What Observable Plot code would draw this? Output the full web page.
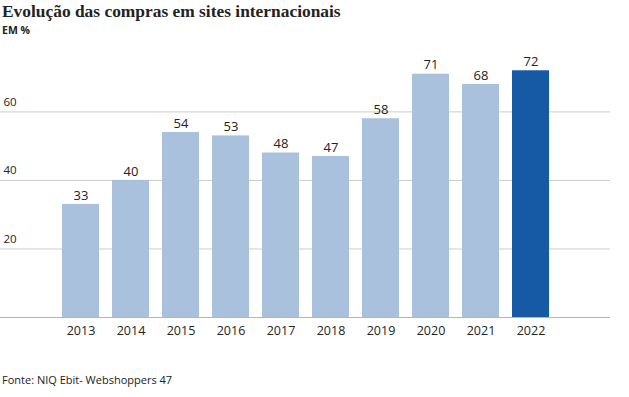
<!DOCTYPE html>
<html><head><meta charset="utf-8">
<script src="https://cdn.jsdelivr.net/npm/d3@7"></script>
<script src="https://cdn.jsdelivr.net/npm/@observablehq/plot@0.6"></script>
<style>
body{margin:0;background:#fff;font-family:"Open Sans",sans-serif;}
#wrap{position:relative;width:629px;height:397px;}
#title{position:absolute;left:2px;top:0px;font:bold 17.4px "Liberation Serif",serif;color:#222;line-height:22px;}
#sub{position:absolute;left:2px;top:22px;font:bold 10.5px "Open Sans",sans-serif;color:#222;line-height:16px;}
#chart{position:absolute;left:0;top:40px;}
#cap{position:absolute;left:2px;top:372px;font:11px "Open Sans",sans-serif;color:#222;line-height:16px;}
</style></head>
<body><div id="wrap">
<div id="title">Evolução das compras em sites internacionais</div>
<div id="sub">EM %</div>
<div id="chart"></div>
<div id="cap">Fonte: NIQ Ebit- Webshoppers 47</div>
</div>
<script>
const years = ["2013","2014","2015","2016","2017","2018","2019","2020","2021","2022"];
const values = [33,40,54,53,48,47,58,71,68,72];
const highlight = ["2022"];
const yTicks = [20,40,60];

const data = years.map((y,i)=>({year:y, value:values[i]}));
const light = "#a9c1dc", dark = "#1659a4";

const plot = Plot.plot({
  width: 629, height: 305,
  marginLeft: 0, marginRight: 19, marginTop: 20, marginBottom: 28,
  x: {domain: years, range: [48, 562], padding: 0.26, label: null},
  y: {domain: [0, 75], label: null, axis: null},
  style: {fontFamily: "Open Sans", fontSize: "12px", color: "#222", background: "#fff"},
  marks: [
    Plot.ruleY(yTicks, {stroke: "#cccccc", strokeWidth: 1}),
    Plot.text(yTicks, {y: d=>d, text: d=>String(d), frameAnchor: "left", textAnchor: "start", dx: 3, dy: -10, fontSize: 11.5, fill: "#222"}),
    Plot.barY(data, {x: "year", y: "value", fill: d => highlight.includes(d.year) ? dark : light}),
    Plot.ruleY([0], {stroke: "#b5b5b5", strokeWidth: 1.2}),
    Plot.text(data, {x: "year", y: "value", text: d=>String(d.value), dy: -9, fontSize: 13, fill: "#222"}),
    Plot.axisX({tickSize: 0, tickPadding: 9, fontSize: 12.5, label: null})
  ]
});
document.getElementById("chart").appendChild(plot);
</script></body></html>
